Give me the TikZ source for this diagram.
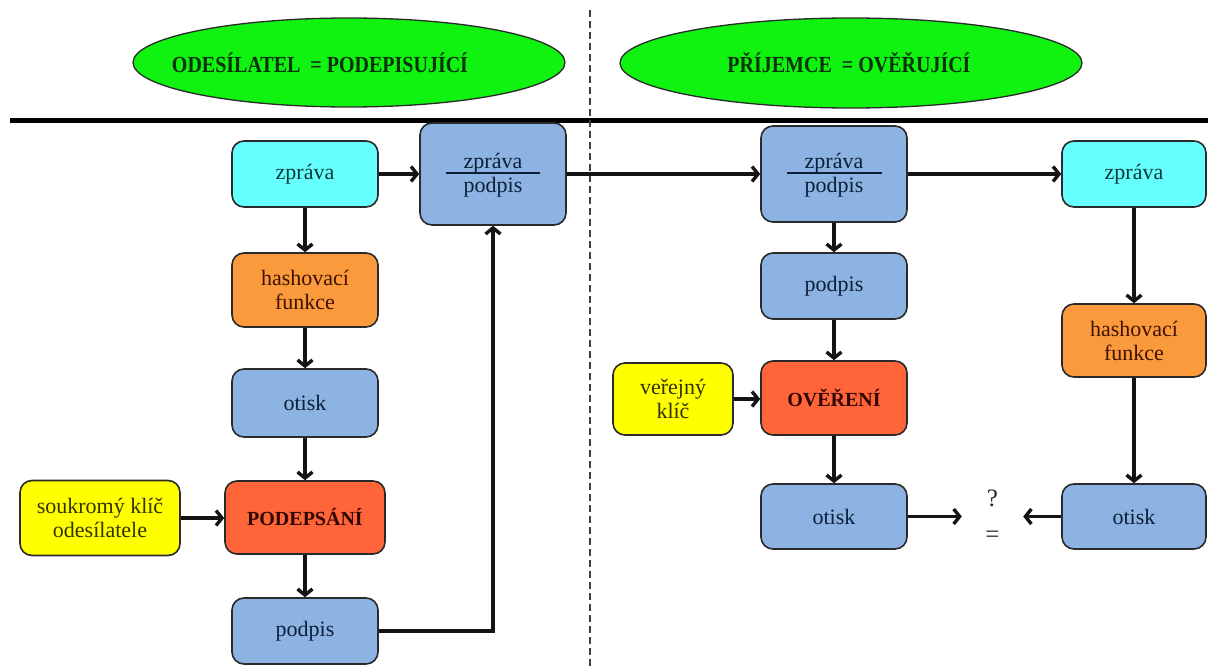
\documentclass[tikz,border=0pt]{standalone}
\usepackage{fontspec}
\setmainfont{Liberation Serif}
\usetikzlibrary{shapes.geometric,arrows.meta,calc}

\definecolor{titlegreen}{HTML}{10F210}
\definecolor{titletext}{HTML}{0A300A}
\definecolor{cyanfill}{HTML}{66FFFF}
\definecolor{cyantext}{HTML}{0E3838}
\definecolor{bluefill}{HTML}{8DB3E2}
\definecolor{bluetext}{HTML}{0C1F38}
\definecolor{orangefill}{HTML}{FA9A3C}
\definecolor{orangetext}{HTML}{401200}
\definecolor{redfill}{HTML}{FF6538}
\definecolor{redtext}{HTML}{300600}
\definecolor{yellowfill}{HTML}{FFFF00}
\definecolor{yellowtext}{HTML}{333300}
\definecolor{boxline}{HTML}{2A2A2A}

\begin{document}
\begin{tikzpicture}[x=1pt,y=-1pt,
  every node/.style={font=\fontsize{22}{24}\selectfont},
  box/.style={draw=boxline, line width=1.6pt, rounded corners=12pt,
    align=center, inner sep=2pt},
  size/.style 2 args={minimum width=#1, minimum height=#2},
  cyanbox/.style={box, fill=cyanfill, text=cyantext},
  bluebox/.style={box, fill=bluefill, text=bluetext},
  orangebox/.style={box, fill=orangefill, text=orangetext},
  redbox/.style={box, fill=redfill, text=redtext, font=\fontsize{20}{23}\selectfont\bfseries},
  yellowbox/.style={box, fill=yellowfill, text=yellowtext},
  titleoval/.style={ellipse, draw=boxline, line width=1.3pt, fill=titlegreen, inner sep=0pt},
  titlelabel/.style={text=titletext, font=\fontsize{20}{23}\selectfont\bfseries},
  arr/.style={line width=3.4pt, draw=black!92, -{Straight Barb[length=6pt,width=15pt]}},
  divider/.style={line width=1.4pt, draw=bluetext},
]
\useasboundingbox (0,0) rectangle (1208,666);
\fill[white] (0,0) rectangle (1208,666);

% header: roles of the two parties
\node[titleoval, minimum width=432, minimum height=89] (ovalS) at (349,62.5) {};
\node[titlelabel] (titleS) at (320,63) {\scalebox{1}[1.15]{ODESÍLATEL~ = PODEPISUJÍCÍ}};
\node[titleoval, minimum width=462, minimum height=90] (ovalR) at (851,63) {};
\node[titlelabel] (titleR) at (849,63) {\scalebox{1}[1.15]{PŘÍJEMCE~ = OVĚŘUJÍCÍ}};

% separators
\draw[line width=5pt] (10,121) -- (1208,121);
\draw[line width=1.2pt, draw=black!75, dash pattern=on 7pt off 4pt] (590,10) -- (590,666);

% signing side
\node[cyanbox, size={146}{66}] (zpL) at (305,174) {zpráva};
\node[orangebox, size={146}{74}] (hashL) at (305,290) {hashovací\\funkce};
\node[bluebox, size={146}{68}] (otL) at (305,403) {otisk};
\node[redbox, size={160}{73}] (sign) at (305,517.5) {PODEPSÁNÍ};
\node[yellowbox, size={160}{75}] (privkey) at (100,518) {soukromý klíč\\odesílatele};
\node[bluebox, size={146}{66}] (podL) at (305,631) {podpis};

\node[bluebox, size={146}{102}] (zppL) at (493,174) {};
\node[anchor=base, text=bluetext] (zppLa) at (493,168) {zpráva};
\node[anchor=base, text=bluetext] (zppLb) at (493,193) {podpis};
\draw[divider] ($(zppL.center)+(-47,-1)$) -- ++(94,0);

% verifying side
\node[bluebox, size={146}{96}] (zppR) at (834,174) {};
\node[anchor=base, text=bluetext] (zppRa) at (834,168) {zpráva};
\node[anchor=base, text=bluetext] (zppRb) at (834,193) {podpis};
\draw[divider] ($(zppR.center)+(-47,-1)$) -- ++(95,0);

\node[bluebox, size={146}{66}] (podR) at (834,286) {podpis};
\node[redbox, size={146}{74}] (ver) at (834,398) {OVĚŘENÍ};
\node[yellowbox, size={120}{72}] (pubkey) at (673,399) {veřejný\\klíč};
\node[bluebox, size={146}{65}] (otR) at (834,516.5) {otisk};

\node[cyanbox, size={144}{66}] (zpR) at (1134,174) {zpráva};
\node[orangebox, size={144}{73}] (hashR) at (1134,340.5) {hashovací\\funkce};
\node[bluebox, size={144}{65}] (otR2) at (1134,516.5) {otisk};

\node[align=center, minimum width=61, inner sep=0pt, text=black!85,
  font=\fontsize{25}{26}\selectfont] (cmp) at (992.5,516) {?\\[10pt]=};

% connectors
\draw[arr] (zpL.east) -- (zppL.west);
\draw[arr] (zpL.south) -- (hashL.north);
\draw[arr] (hashL.south) -- (otL.north);
\draw[arr] (otL.south) -- (sign.north);
\draw[arr] (privkey.east) -- (privkey.east -| sign.west);
\draw[arr] (sign.south) -- (podL.north);
\draw[arr] (podL.east) -| (zppL.south);
\draw[arr] (zppL.east) -- (zppR.west);
\draw[arr] (zppR.east) -- (zpR.west);
\draw[arr] (zppR.south) -- (podR.north);
\draw[arr] (podR.south) -- (ver.north);
\draw[arr] (pubkey.east) -- (pubkey.east -| ver.west);
\draw[arr] (ver.south) -- (otR.north);
\draw[arr] (otR.east) -- (otR.east -| cmp.west);
\draw[arr] (zpR.south) -- (hashR.north);
\draw[arr] (hashR.south) -- (otR2.north);
\draw[arr] (otR2.west) -- (otR2.west -| cmp.east);
\end{tikzpicture}
\end{document}
